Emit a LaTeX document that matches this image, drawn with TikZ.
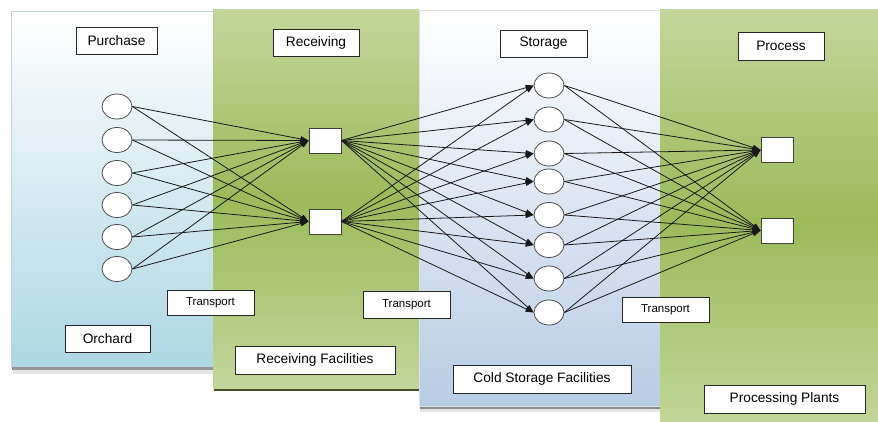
\documentclass[tikz,border=0pt]{standalone}
\usepackage{fontspec}
\setmainfont{Liberation Sans}
\usetikzlibrary{shapes.geometric,arrows.meta}
\definecolor{olive}{HTML}{9BBB59}
\definecolor{olivelt}{HTML}{C3D69B}
\definecolor{bluelt}{HTML}{ADD7E3}
\definecolor{steel}{HTML}{B8CCE4}
\tikzset{
  orch/.style={ellipse, draw=black!70, fill=white, minimum width=30pt, minimum height=25pt, inner sep=0pt, line width=0.8pt},
  sq/.style={rectangle, draw=black!75, fill=white, minimum width=32pt, minimum height=25pt, inner sep=0pt, line width=0.9pt},
  lbl/.style={rectangle, draw=black!85, fill=white, inner sep=0pt, line width=0.9pt, font=\fontsize{13.7}{16}\selectfont},
  tlbl/.style={lbl, font=\fontsize{11.5}{14}\selectfont},
  arr/.style={-{Triangle[length=8pt,width=5.5pt]}, line width=0.8pt, draw=black!90},
}
\begin{document}
\begin{tikzpicture}[x=1pt,y=-1pt]
\useasboundingbox (0,0) rectangle (878,422);
\clip (0,0) rectangle (878,422);
% shadows
\fill[black!10] (13,366) rectangle (215,374);
\fill[gray!75!cyan!40!black!60] (12,366) rectangle (213,370);
\fill[black!55!olive] (214,388) rectangle (419,391);
\fill[black!10] (420,406) rectangle (660,412);
\fill[gray!80!steel] (420,405) rectangle (660,409);
% panels
\path[top color=white, bottom color=bluelt, draw=black!15!bluelt!60, line width=0.8pt] (11,11) rectangle (213,366);
\path[top color=olivelt, bottom color=olivelt, middle color=olive] (213,10) rectangle (419,388);
\path[top color=white, bottom color=steel, draw=black!12, line width=0.6pt] (419,10) rectangle (660,406);
\path[top color=olivelt, bottom color=olivelt, middle color=olive] (660,10) rectangle (880,430);
% header and footer labels
\node[lbl, minimum width=81pt, minimum height=27pt] (purchase) at (116.5,40.5) {Purchase};
\node[lbl, minimum width=86pt, minimum height=27pt] (receiving) at (316,42.5) {Receiving};
\node[lbl, minimum width=87pt, minimum height=27pt] (storage) at (543.5,43.5) {Storage};
\node[lbl, minimum width=86pt, minimum height=28pt] (process) at (781,46) {Process};
\node[tlbl, minimum width=87pt, minimum height=25pt] (t1) at (210.5,302.5) {Transport};
\node[tlbl, minimum width=87pt, minimum height=27pt] (t2) at (406.5,304.5) {Transport};
\node[tlbl, minimum width=87pt, minimum height=25pt] (t3) at (665.5,309.5) {Transport};
\node[lbl, minimum width=85pt, minimum height=27pt] (orchard) at (107.5,338.5) {Orchard};
\node[lbl, minimum width=160pt, minimum height=28pt] (rfac) at (315,360) {Receiving Facilities};
\node[lbl, minimum width=178pt, minimum height=28pt] (cfac) at (542,379) {Cold Storage Facilities};
\node[lbl, minimum width=161pt, minimum height=28pt] (pplant) at (784.5,399) {Processing Plants};
% network nodes
\foreach \i/\y in {1/106.5,2/140,3/173,4/205,5/237,6/269}
  \node[orch] (o\i) at (117,\y) {};
\node[sq] (r1) at (325,140.5) {};
\node[sq] (r2) at (325,221.5) {};
\foreach \i/\y in {1/85.5,2/119.5,3/153.5,4/181.5,5/215,6/245,7/278.5,8/312.5}
  \node[orch] (s\i) at (549,\y) {};
\node[sq] (p1) at (777,150) {};
\node[sq] (p2) at (777,230.5) {};
% connectors
\foreach \i in {1,...,6} {
  \draw[arr] (o\i.east) -- (r1.west);
  \draw[arr] (o\i.east) -- (r2.west);
}
\foreach \i in {1,...,8} {
  \draw[arr] (r1.east) -- (s\i.west);
  \draw[arr] (r2.east) -- (s\i.west);
  \draw[arr] (s\i.east) -- (p1.west);
  \draw[arr] (s\i.east) -- (p2.west);
}
\end{tikzpicture}
\end{document}
